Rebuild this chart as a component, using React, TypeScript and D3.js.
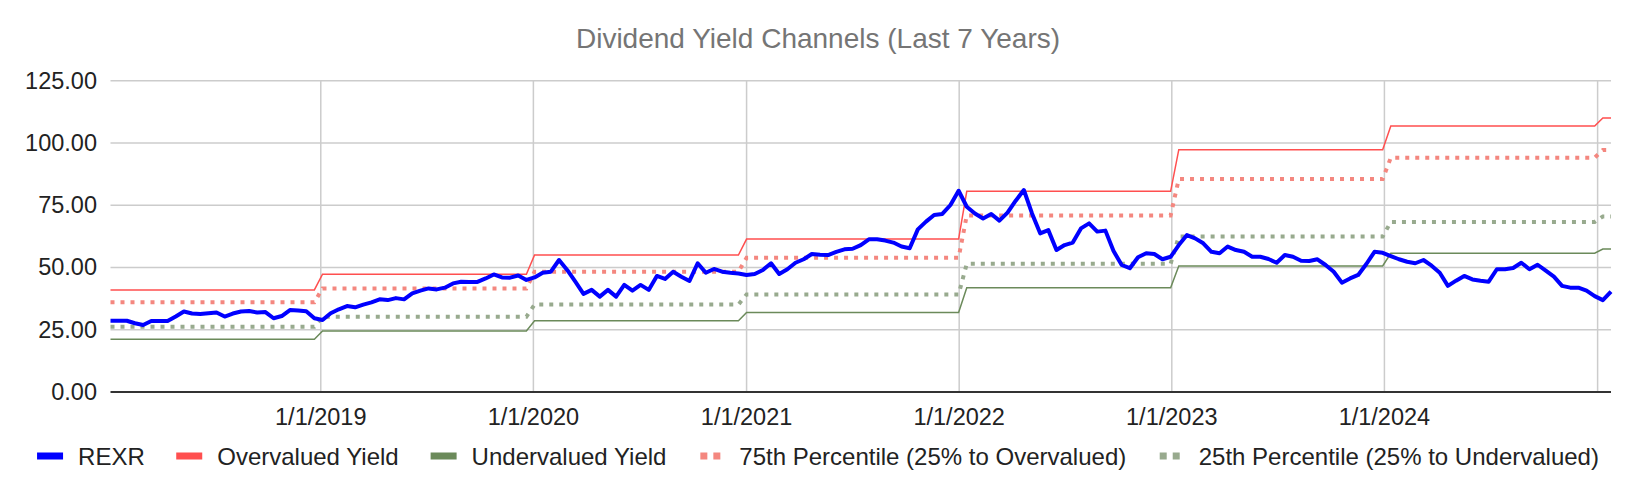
import React from "react";
import * as d3 from "d3";

// REXR dividend-yield-based price channel, biweekly observations starting 2018-01-05
const rexr = [
  28.6, 28.6, 28.6, 27.6, 26.9, 28.5, 28.5, 28.5, 30.3, 32.3,
  31.5, 31.3, 31.6, 31.9, 30.3, 31.5, 32.3, 32.5, 31.9, 32.1,
  29.6, 30.5, 32.9, 32.7, 32.4, 29.6, 28.9, 31.6, 33.2, 34.5,
  34.0, 35.1, 36.0, 37.2, 36.9, 37.7, 37.2, 39.6, 40.7, 41.6,
  41.2, 41.9, 43.6, 44.3, 44.2, 44.2, 45.6, 47.2, 46.0, 45.9,
  46.8, 45.0, 46.0, 47.9, 48.3, 53.0, 49.0, 44.3, 39.4, 41.0,
  38.3, 41.0, 38.3, 43.0, 40.7, 43.0, 41.0, 46.6, 45.4, 48.3,
  46.3, 44.6, 51.7, 47.9, 49.4, 48.3, 47.9, 47.6, 47.0, 47.4,
  49.0, 51.7, 47.4, 49.3, 51.9, 53.3, 55.4, 55.1, 55.0, 56.3,
  57.3, 57.5, 59.0, 61.3, 61.3, 60.8, 60.0, 58.4, 57.7, 65.3,
  68.4, 71.1, 71.5, 75.1, 80.8, 74.4, 71.7, 69.7, 71.5, 68.8,
  72.0, 76.8, 81.1, 71.7, 63.7, 65.0, 57.0, 59.0, 60.0, 65.7,
  67.7, 64.4, 64.8, 56.6, 51.0, 49.7, 54.1, 55.7, 55.4, 53.3,
  54.3, 59.0, 63.0, 61.7, 59.7, 56.3, 55.7, 58.4, 57.0, 56.3,
  54.3, 54.3, 53.4, 51.9, 55.0, 54.3, 52.7, 52.6, 53.3, 51.0,
  48.3, 43.9, 45.6, 47.0, 51.4, 56.3, 55.9, 54.6, 53.3, 52.3,
  51.7, 53.0, 50.7, 47.9, 42.6, 44.7, 46.6, 45.2, 44.7, 44.3,
  49.3, 49.3, 49.8, 51.9, 49.3, 51.1, 48.7, 46.3, 42.6, 41.9,
  41.9, 40.7, 38.5, 36.9, 40.3,
];

// Yearly channel levels
const channelYears = [2018, 2019, 2020, 2021, 2022, 2023, 2024, 2025];
const overvalued = [41.0, 47.3, 55.0, 61.4, 80.6, 97.3, 106.8, 110.0];
const pct75 = [36.0, 41.6, 48.3, 53.9, 70.9, 85.5, 94.1, 97.2];
const pct25 = [26.2, 30.2, 35.1, 39.2, 51.5, 62.4, 68.3, 70.5];
const undervalued = [21.2, 24.5, 28.6, 31.9, 41.9, 50.6, 55.7, 57.4];

const yTicks = [0, 25, 50, 75, 100, 125];
const legendLabels = [
  "REXR",
  "Overvalued Yield",
  "Undervalued Yield",
  "75th Percentile (25% to Overvalued)",
  "25th Percentile (25% to Undervalued)",
];
const title = "Dividend Yield Channels (Last 7 Years)";

const START = new Date(2018, 0, 5);
const W = 1636;
const H = 494;
const FONT = "'Liberation Sans', Arial, sans-serif";
const AXIS_FS = 23.5;
const LEGEND_FS = 24;

const COLORS = {
  rexr: "#0000ff",
  over: "#ff4f4f",
  under: "#6b8a5a",
  p75: "#f4877f",
  p25: "#98aa8e",
};

function measure(text: string, size: number): number {
  try {
    const c = document.createElement("canvas").getContext("2d");
    if (c) {
      c.font = `${size}px 'Liberation Sans', Arial, sans-serif`;
      return c.measureText(text).width;
    }
  } catch (e) {}
  return text.length * size * 0.5;
}

export default function App() {
  const dates = rexr.map((_, i) => d3.timeDay.offset(START, 14 * i));
  const x = d3
    .scaleTime()
    .domain([dates[0], dates[dates.length - 1]])
    .range([110.5, 1611]);
  const y = d3.scaleLinear().domain([0, 125]).range([392, 80.7]);

  const yearIdx = (d: Date) => channelYears.indexOf(d.getFullYear());
  const series = (vals: number[]) =>
    dates.map((d) => [d, vals[yearIdx(d)]] as [Date, number]);

  const line = d3
    .line<[Date, number]>()
    .x((d) => x(d[0]))
    .y((d) => y(d[1]));

  const xTicks = d3.timeYear.range(new Date(2019, 0, 1), new Date(2025, 0, 2));
  const fmt = d3.timeFormat("%-m/%-d/%Y");
  const [x0, x1] = x.range();
  const [yb, yt] = y.range();

  // legend layout: swatch, gap, text, item gap; centered
  const SW = 26;
  const SG = 15;
  const IG = 31.5;
  const colors = [COLORS.rexr, COLORS.over, COLORS.under, COLORS.p75, COLORS.p25];
  const dotted = [false, false, false, true, true];
  const widths = legendLabels.map((l) => measure(l, LEGEND_FS));
  const total =
    widths.reduce((a, b) => a + b, 0) + legendLabels.length * (SW + SG) + (legendLabels.length - 1) * IG;
  let cursor = (W - total) / 2;
  const legendItems = legendLabels.map((label, i) => {
    const sx = cursor;
    const tx = sx + SW + SG;
    cursor = tx + widths[i] + IG;
    return { label, color: colors[i], dotted: dotted[i], sx, tx };
  });
  const legendY = 456;

  return (
    <svg
      width={W}
      height={H}
      style={{ position: "absolute", left: 0, top: 0, background: "#fff" }}
      fontFamily={FONT}
    >
      <rect x={0} y={0} width={W} height={H} fill="#fff" />
      <text
        x={W / 2}
        y={38.5}
        textAnchor="middle"
        dominantBaseline="central"
        fontSize={28}
        fill="#757575"
      >
        {title}
      </text>

      {/* horizontal gridlines */}
      {yTicks.map((t) =>
        t === 0 ? null : (
          <line key={"hg" + t} x1={x0} x2={x1} y1={y(t)} y2={y(t)} stroke="#cccccc" strokeWidth={1.5} />
        )
      )}
      {/* vertical gridlines */}
      {xTicks.map((d) => (
        <line key={"vg" + d.getTime()} x1={x(d)} x2={x(d)} y1={yt} y2={yb} stroke="#cccccc" strokeWidth={1.5} />
      ))}

      {/* y labels */}
      {yTicks.map((t) => (
        <text
          key={"yl" + t}
          x={97}
          y={y(t)}
          textAnchor="end"
          dominantBaseline="central"
          fontSize={AXIS_FS}
          fill="#222"
        >
          {d3.format(".2f")(t)}
        </text>
      ))}

      {/* x labels */}
      {xTicks
        .filter((d) => x(d) + 46 < W)
        .map((d) => (
          <text
            key={"xl" + d.getTime()}
            x={x(d)}
            y={417}
            textAnchor="middle"
            dominantBaseline="central"
            fontSize={AXIS_FS}
            fill="#222"
          >
            {fmt(d)}
          </text>
        ))}

      {/* channel lines */}
      <path d={line(series(overvalued)) || ""} fill="none" stroke={COLORS.over} strokeWidth={1.5} />
      <path d={line(series(undervalued)) || ""} fill="none" stroke={COLORS.under} strokeWidth={1.5} />
      <path
        d={line(series(pct75)) || ""}
        fill="none"
        stroke={COLORS.p75}
        strokeWidth={4}
        strokeDasharray="4 6"
      />
      <path
        d={line(series(pct25)) || ""}
        fill="none"
        stroke={COLORS.p25}
        strokeWidth={4}
        strokeDasharray="4 6"
      />

      {/* REXR */}
      <path
        d={line(dates.map((d, i) => [d, rexr[i]] as [Date, number])) || ""}
        fill="none"
        stroke={COLORS.rexr}
        strokeWidth={4}
        strokeLinejoin="round"
      />

      {/* baseline */}
      <line x1={x0} x2={x1} y1={yb} y2={yb} stroke="#333" strokeWidth={2} />

      {/* legend */}
      {legendItems.map((it) => (
        <g key={it.label}>
          {it.dotted ? (
            <>
              <rect x={it.sx + 2} y={legendY - 3.5} width={7} height={7} fill={it.color} />
              <rect x={it.sx + 15} y={legendY - 3.5} width={7} height={7} fill={it.color} />
            </>
          ) : (
            <rect x={it.sx} y={legendY - 3.5} width={SW} height={7} fill={it.color} />
          )}
          <text x={it.tx} y={legendY} dominantBaseline="central" fontSize={LEGEND_FS} fill="#222">
            {it.label}
          </text>
        </g>
      ))}
    </svg>
  );
}
